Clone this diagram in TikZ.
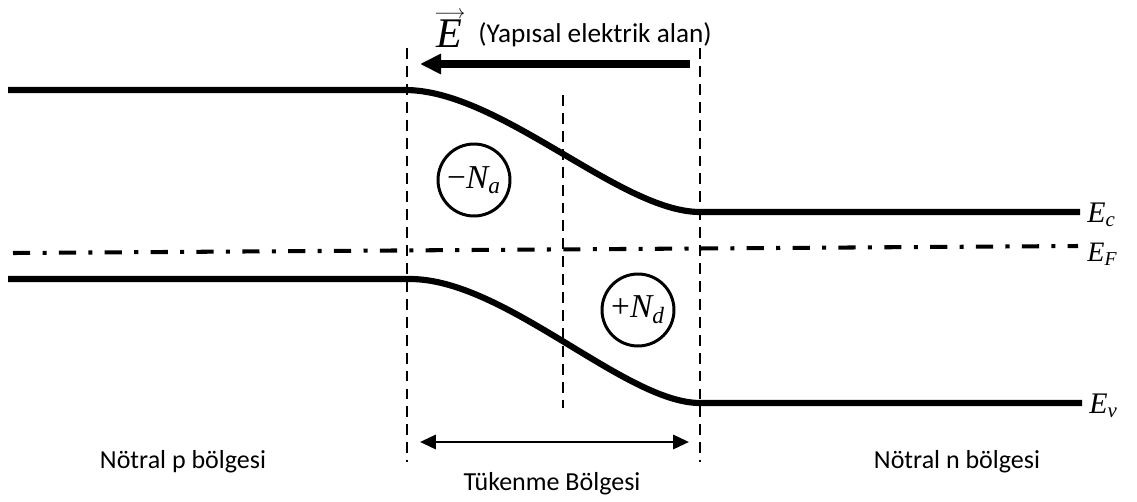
\documentclass[tikz,border=0pt]{standalone}
\usepackage{fontspec}
\setmainfont{Carlito}
\newfontfamily\tnr{Liberation Serif}
\usetikzlibrary{arrows.meta}
\newcommand{\enerji}[2]{{\tnr\itshape #1\textsubscript{#2}}}
\newcommand{\vektor}[1]{\vbox{\offinterlineskip\halign{\hfil##\hfil\cr
    {\fontsize{11}{11}\selectfont$\relbar\joinrel\rightarrow$}\cr\noalign{\kern1pt}
    #1\cr}}}
\begin{document}
\begin{tikzpicture}[x=0.02cm, y=-0.02cm,
    bant/.style={line width=3.5pt},
    sinir/.style={line width=1.5pt, dash pattern=on 6.2pt off 4pt},
    yuk/.style={draw, circle, line width=1.7pt, minimum size=1.44cm, inner sep=0pt, font=\fontsize{19}{22}\selectfont},
    etiket/.style={font=\fontsize{14.8}{18}\selectfont}]
    \useasboundingbox (0,0) rectangle (1137,501);

    % Bant kenarlari
    \draw[bant] (8,90) -- (405,90) .. controls (500,90) and (620,212) .. (700,212) -- (1080,212);
    \draw[bant] (8,279) -- (410,279) .. controls (505,279) and (625,403) .. (700,403) -- (1082,403);
    % Fermi seviyesi
    \draw[line width=2.3pt, dash pattern=on 9.8pt off 7pt on 2.3pt off 7pt] (13,253) -- (1078,246);

    % Tukenme bolgesi sinirlari
    \coordinate (solust) at (407,48);
    \coordinate (solalt) at (407,462);
    \coordinate (sagust) at (700,48);
    \coordinate (sagalt) at (700,462);
    \draw[sinir] (solust) -- (solalt);
    \draw[sinir] (sagust) -- (sagalt);
    \draw[sinir] (563,95) -- (563,408);

    % Yapisal elektrik alan
    \coordinate (alanbas) at (690,64);
    \coordinate (alanson) at (420,64);
    \draw[line width=4pt, -{Triangle[length=12pt, width=11pt]}] (alanbas) -- (alanson);
    \node[anchor=south west, inner sep=0pt, font=\fontsize{24}{28}\selectfont] (alan) at (434,48)
        {\vektor{\tnr\itshape E\kern1pt}};
    \node[anchor=base west, inner sep=0pt, font=\fontsize{15.5}{18}\selectfont] (alanad) at (478,42) {(Yapısal elektrik alan)};

    % Yukler
    \node[yuk] (na) at (474,180) {{\tnr −\itshape N\textsubscript{a}}};
    \node[yuk] (nd) at (638,310) {{\tnr +\itshape N\textsubscript{d}}};

    % Seviye etiketleri
    \node[anchor=base west, inner sep=0pt, font=\fontsize{17}{20}\selectfont] (ec) at (1087,222) {\enerji{E}{c}};
    \node[anchor=base west, inner sep=0pt, font=\fontsize{16}{19}\selectfont] (ef) at (1087,261) {\enerji{E}{F}};
    \node[anchor=base west, inner sep=0pt, font=\fontsize{17}{20}\selectfont] (ev) at (1089,413) {\enerji{E}{v}};

    % Bolge genisligi
    \coordinate (gsol) at (420,442);
    \coordinate (gsag) at (689,442);
    \draw[line width=1.6pt, {Triangle[length=9pt, width=8pt]}-{Triangle[length=9pt, width=8pt]}] (gsol) -- (gsag);

    % Bolge adlari
    \node[etiket, anchor=base] (pbolge) at (183,468) {Nötral p bölgesi};
    \node[etiket, anchor=base] (tukenme) at (552,490) {Tükenme Bölgesi};
    \node[etiket, anchor=base] (nbolge) at (957,468) {Nötral n bölgesi};
\end{tikzpicture}
\end{document}
